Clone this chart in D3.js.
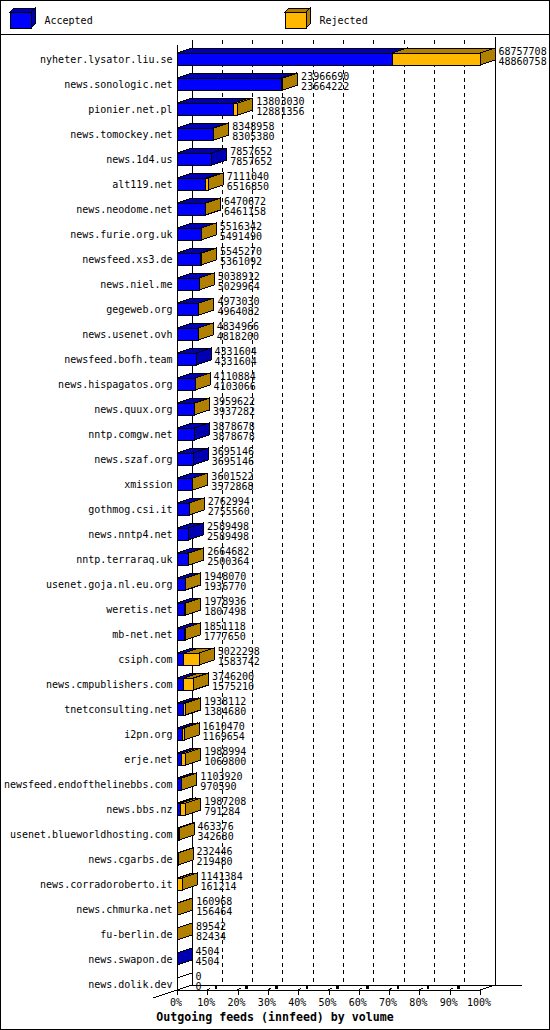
<!DOCTYPE html>
<html>
<head>
<meta charset="utf-8">
<script src="https://cdn.jsdelivr.net/npm/d3@7"></script>
<style>
body { margin: 0; background: #fff; }
svg text { font-family: 'DejaVu Sans Mono', monospace; font-size: 10px; fill: #000; }
</style>
</head>
<body>
<div id="chart-container"></div>
<script>
var hosts = [
    'nyheter.lysator.liu.se', 'news.sonologic.net', 'pionier.net.pl', 'news.tomockey.net',
    'news.1d4.us', 'alt119.net', 'news.neodome.net', 'news.furie.org.uk', 'newsfeed.xs3.de',
    'news.niel.me', 'gegeweb.org', 'news.usenet.ovh', 'newsfeed.bofh.team', 'news.hispagatos.org',
    'news.quux.org', 'nntp.comgw.net', 'news.szaf.org', 'xmission', 'gothmog.csi.it',
    'news.nntp4.net', 'nntp.terraraq.uk', 'usenet.goja.nl.eu.org', 'weretis.net', 'mb-net.net',
    'csiph.com', 'news.cmpublishers.com', 'tnetconsulting.net', 'i2pn.org', 'erje.net',
    'newsfeed.endofthelinebbs.com', 'news.bbs.nz', 'usenet.blueworldhosting.com', 'news.cgarbs.de',
    'news.corradoroberto.it', 'news.chmurka.net', 'fu-berlin.de', 'news.swapon.de', 'news.dolik.dev'
]

// offered volume (top number) and accepted volume (bottom number)
var offered = [
    68757708, 23966690, 13803030, 8348958, 7857652, 7111040, 6470672, 5516342, 5545270,
    5038912, 4973030, 4834966, 4331604, 4110884, 3959622, 3878678, 3695146, 3601522, 2762994,
    2589498, 2664682, 1948070, 1978936, 1851118, 5022298, 3746200, 1938112, 1610470, 1988994,
    1103920, 1987208, 463376, 232446, 1141384, 160968, 89542, 4504, 0
]
var accepted = [
    48860758, 23664222, 12881356, 8305380, 7857652, 6516850, 6461158, 5491490, 5361092,
    5029964, 4964082, 4818200, 4331604, 4103066, 3937282, 3878678, 3695146, 3572868, 2755560,
    2589498, 2500364, 1936770, 1807498, 1777650, 1583742, 1575210, 1384680, 1169654, 1069800,
    970590, 791284, 342680, 219480, 161214, 156464, 82434, 4504, 0
]

var seriesNames = ['Accepted', 'Rejected']
var tickLabels = ['0%', '10%', '20%', '30%', '40%', '50%', '60%', '70%', '80%', '90%', '100%']
var chartTitle = 'Outgoing feeds (innfeed) by volume'

var width = 550
var height = 1030
var dx = 15
var dy = 5
var colors = { front: ['#0000ff', '#ffb700'], dark: ['#0000b2', '#b28000'] }

var svg = d3.select('#chart-container')
    .append('svg')
    .attr('width', width)
    .attr('height', height)
    .attr('shape-rendering', 'crispEdges')

var x = d3.scaleLinear().domain([0, d3.max(offered)]).range([177, 480])
var y = d3.scaleBand().domain(hosts).range([40, 990])

var tickVals = tickLabels.map((t, i) => x.domain()[1] * i / 10)

function poly(pts) {
    return 'M' + pts.map((p) => p[0] + ',' + p[1]).join('L') + 'Z'
}

// frame + legend separator
svg.append('rect')
    .attr('x', 0.5).attr('y', 0.5)
    .attr('width', width - 1).attr('height', height - 1)
    .attr('fill', '#fff').attr('stroke', '#000')
svg.append('line')
    .attr('x1', 0).attr('x2', width).attr('y1', 34.5).attr('y2', 34.5)
    .attr('stroke', '#000')

// legend cubes
var legend = svg.append('g')
seriesNames.forEach(function (name, i) {
    var lx = 10 + i * 275
    var g = legend.append('g')
    g.append('rect').attr('x', lx).attr('y', 12).attr('width', 21).attr('height', 16)
        .attr('fill', colors.front[i]).attr('stroke', '#000')
    g.append('path').attr('d', poly([[lx, 12], [lx + 4, 8], [lx + 25, 8], [lx + 21, 12]]))
        .attr('fill', colors.dark[i]).attr('stroke', '#000')
    g.append('path').attr('d', poly([[lx + 21, 12], [lx + 25, 8], [lx + 25, 24], [lx + 21, 28]]))
        .attr('fill', colors.dark[i]).attr('stroke', '#000')
    g.append('text').attr('x', lx + 34.5).attr('y', 23.6).text(name)
})

// back plane: grid lines
var back = svg.append('g')
back.selectAll('line.grid')
    .data(tickVals.slice(1, 10))
    .join('line')
    .attr('class', 'grid')
    .attr('x1', (d) => x(d) + dx).attr('x2', (d) => x(d) + dx)
    .attr('y1', 40).attr('y2', 985)
    .attr('stroke', '#000')
    .attr('stroke-dasharray', '4,3.5')
back.append('line').attr('x1', x(0) + dx).attr('x2', x(0) + dx).attr('y1', 40).attr('y2', 985).attr('stroke', '#000')
back.append('line').attr('x1', x.range()[1] + dx).attr('x2', x.range()[1] + dx).attr('y1', 37).attr('y2', 985).attr('stroke', '#000')

// floor
back.append('line').attr('x1', x(0) + dx).attr('x2', 522).attr('y1', 985).attr('y2', 985).attr('stroke', '#000')
back.append('line').attr('x1', x(0) + dx).attr('y1', 985).attr('x2', 153).attr('y2', 998).attr('stroke', '#000')
back.append('line').attr('x1', x.range()[1]).attr('y1', 990).attr('x2', x.range()[1] + dx).attr('y2', 985).attr('stroke', '#000')

// front axis line
svg.append('line').attr('x1', x(0)).attr('x2', x(0)).attr('y1', 45).attr('y2', 990).attr('stroke', '#000')

function drawBlock(g, x0, x1, yTop, yBot, fill, dark) {
    g.append('rect')
        .attr('x', x0).attr('y', yTop)
        .attr('width', Math.max(0, x1 - x0)).attr('height', yBot - yTop)
        .attr('fill', fill).attr('stroke', '#000')
    g.append('path')
        .attr('d', poly([[x0, yTop], [x0 + dx, yTop - dy], [x1 + dx, yTop - dy], [x1, yTop]]))
        .attr('fill', dark).attr('stroke', '#000')
    g.append('path')
        .attr('d', poly([[x1, yTop], [x1 + dx, yTop - dy], [x1 + dx, yBot - dy], [x1, yBot]]))
        .attr('fill', dark).attr('stroke', '#000')
}

var rows = svg.append('g')
    .selectAll('g')
    .data(hosts)
    .join('g')

rows.each(function (host, i) {
    var g = d3.select(this)
    var yTop = y(host) + 13
    var yBot = y(host) + 25
    if (accepted[i] > 0) {
        drawBlock(g, x(0), x(accepted[i]), yTop, yBot, colors.front[0], colors.dark[0])
    }
    if (offered[i] - accepted[i] > 0) {
        drawBlock(g, x(accepted[i]), x(offered[i]), yTop, yBot, colors.front[1], colors.dark[1])
    }
    if (offered[i] == 0) {
        drawBlock(g, x(0), x(0), yTop, yBot, '#fff', '#fff')
    }

    g.append('text')
        .attr('x', 172.5)
        .attr('y', y(host) + 23.3)
        .attr('text-anchor', 'end')
        .text(host)

    g.append('text')
        .attr('x', x(offered[i]) + dx + 3.5)
        .attr('y', y(host) + 14.5)
        .text(offered[i])
    g.append('text')
        .attr('x', x(offered[i]) + dx + 3.5)
        .attr('y', y(host) + 25.3)
        .text(accepted[i])
})

// bottom axis (front edge)
var xAxis = d3.axisBottom(x)
    .tickValues(tickVals)
    .tickFormat((d, i) => tickLabels[i])
    .tickSizeInner(5)
    .tickSizeOuter(0)
    .tickPadding(4)

var axisG = svg.append('g')
    .attr('transform', 'translate(0,990)')
    .call(xAxis)
axisG.selectAll('text').attr('dx', -1.5)
axisG.selectAll('line').attr('stroke', '#000')
axisG.select('.domain').attr('stroke', '#000')

// little 3d tick stubs on the floor
var stubs = svg.append('g')
stubs.selectAll('line')
    .data(tickVals.slice(1, 10))
    .join('line')
    .attr('x1', (d) => x(d)).attr('y1', 990)
    .attr('x2', (d) => x(d) + 3).attr('y2', 988)
    .attr('stroke', '#000')
stubs.selectAll('rect')
    .data(tickVals.slice(1, 10))
    .join('rect')
    .attr('x', (d) => x(d) + 7.5).attr('y', 986)
    .attr('width', 2.5).attr('height', 2.5)
    .attr('fill', '#000')

svg.append('text')
    .attr('x', width / 2)
    .attr('y', 1021)
    .attr('text-anchor', 'middle')
    .style('font-weight', 'bold')
    .style('font-size', '11.6px')
    .text(chartTitle)
</script>
</body>
</html>
